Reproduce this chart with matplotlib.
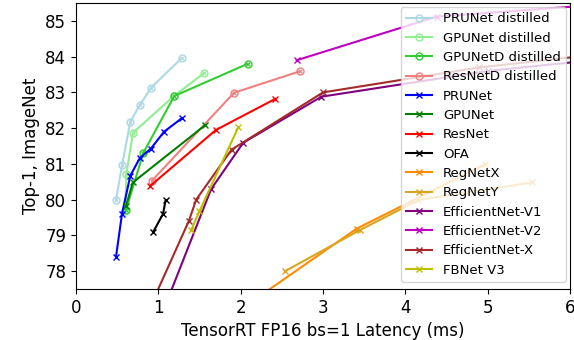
import matplotlib
matplotlib.use("Agg")
import matplotlib.pyplot as plt

# latency (ms) / top-1 accuracy
prunet_d_x = [0.486, 0.56, 0.66, 0.774, 0.911, 1.284]
prunet_d_y = [80.0, 80.97, 82.18, 82.64, 83.13, 83.96]

gpunet_d_x = [0.60, 0.611, 0.692, 1.19, 1.555]
gpunet_d_y = [79.68, 80.71, 81.87, 82.9, 83.54]

gpunetd_d_x = [0.607, 0.818, 1.194, 2.085]
gpunetd_d_y = [79.71, 81.31, 82.9, 83.80]

resnetd_d_x = [0.923, 1.919, 2.717]
resnetd_d_y = [80.53, 82.99, 83.59]

prunet_x = [0.486, 0.559, 0.66, 0.774, 0.911, 1.069, 1.287]
prunet_y = [78.4, 79.61, 80.67, 81.16, 81.43, 81.9, 82.28]

gpunet_x = [0.607, 0.69, 1.567]
gpunet_y = [79.82, 80.48, 82.08]

resnet_x = [0.899, 1.70, 2.421]
resnet_y = [80.38, 81.95, 82.82]

ofa_x = [0.939, 1.057, 1.089]
ofa_y = [79.1, 79.6, 79.99]

regnetx_x = [2.2, 3.41, 4.97]
regnetx_y = [77.25, 79.19, 80.99]

regnety_x = [2.54, 3.45, 4.16, 5.54]
regnety_y = [78.0, 79.15, 79.99, 80.48]

effv1_x = [1.13, 1.64, 2.03, 2.98, 5.0, 6.7]
effv1_y = [77.3, 80.29, 81.59, 82.88, 83.6, 84.0]

effv2_x = [2.68, 4.38, 7.8]
effv2_y = [83.9, 85.12, 85.7]

effx_x = [0.96, 1.37, 1.46, 1.89, 3.0, 4.9, 6.6]
effx_y = [77.3, 79.4, 80.0, 81.4, 83.0, 83.7, 84.13]

fbnet_x = [1.40, 1.50, 1.97]
fbnet_y = [79.15, 79.68, 82.02]

series = [
    ("PRUNet distilled", prunet_d_x, prunet_d_y, "lightblue", "d"),
    ("GPUNet distilled", gpunet_d_x, gpunet_d_y, "lightgreen", "d"),
    ("GPUNetD distilled", gpunetd_d_x, gpunetd_d_y, "limegreen", "d"),
    ("ResNetD distilled", resnetd_d_x, resnetd_d_y, "lightcoral", "d"),
    ("PRUNet", prunet_x, prunet_y, "blue", "x"),
    ("GPUNet", gpunet_x, gpunet_y, "green", "x"),
    ("ResNet", resnet_x, resnet_y, "red", "x"),
    ("OFA", ofa_x, ofa_y, "black", "x"),
    ("RegNetX", regnetx_x, regnetx_y, "darkorange", "x"),
    ("RegNetY", regnety_x, regnety_y, "goldenrod", "x"),
    ("EfficientNet-V1", effv1_x, effv1_y, "purple", "x"),
    ("EfficientNet-V2", effv2_x, effv2_y, "m", "x"),
    ("EfficientNet-X", effx_x, effx_y, "brown", "x"),
    ("FBNet V3", fbnet_x, fbnet_y, "y", "x"),
]

fig = plt.figure(figsize=(5.74, 3.4), dpi=100)
ax = fig.add_axes([0.1324, 0.15, 0.8606, 0.841])

for label, xs, ys, color, kind in series:
    if kind == "d":
        # distilled models: hollow circle with a small cross inside
        ax.plot(xs, ys, color=color, marker="o", markersize=5,
                markerfacecolor="none", markeredgewidth=1.0,
                linewidth=1.5, label=label)
        ax.plot(xs, ys, color=color, marker="x", markersize=3,
                markeredgewidth=0.8, linestyle="none")
    else:
        ax.plot(xs, ys, color=color, marker="x", markersize=5,
                linewidth=1.5, label=label)

ax.set_xlim(0, 6)
ax.set_ylim(77.5, 85.5)
ax.set_xticks([0, 1, 2, 3, 4, 5, 6])
ax.set_yticks([78, 79, 80, 81, 82, 83, 84, 85])
ax.tick_params(labelsize=12)
ax.set_xlabel("TensorRT FP16 bs=1 Latency (ms)", fontsize=12)
ax.set_ylabel("Top-1, ImageNet", fontsize=12)
ax.legend(loc="upper right", fontsize=9.5, borderaxespad=0.3,
          labelspacing=0.48, handlelength=2.0)

fig.savefig("out.png", dpi=100)
